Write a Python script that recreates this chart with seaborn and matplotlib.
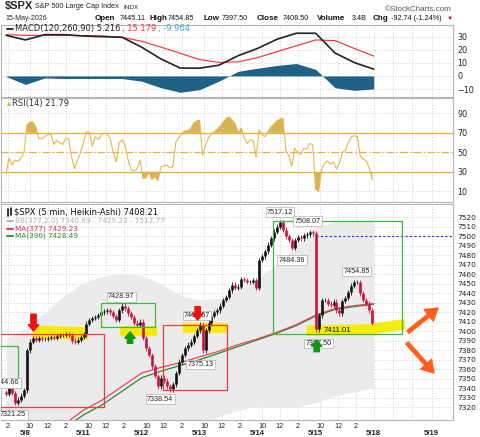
import numpy as np
import pandas as pd
import matplotlib
matplotlib.use("Agg")
import matplotlib.pyplot as plt
import seaborn as sns
from matplotlib.lines import Line2D
from matplotlib.patches import Rectangle, Polygon
from matplotlib.transforms import blended_transform_factory

# x = 5-minute bar count from the 5/7 open, 78 bars per session
day_labels = ["5/8", "5/11", "5/12", "5/13", "5/14", "5/15", "5/18", "5/19"]
hour_labels = ["10", "12", "2"]

# Heikin-Ashi closes, one every 4 bars starting at bar 52
ha_close = [7334, 7341, 7335, 7325, 7328, 7332, 7338,
            7380, 7389, 7393, 7391, 7393, 7392, 7392, 7393, 7394, 7393, 7395, 7396, 7396, 7397, 7396, 7390, 7389, 7391, 7394,
            7397, 7408, 7412, 7414, 7415, 7417, 7420, 7421, 7422, 7420, 7416, 7412, 7422, 7427, 7424, 7419, 7415, 7409, 7407, 7410,
            7393, 7382, 7375, 7363, 7353, 7342, 7351, 7348, 7342, 7339, 7344, 7356, 7368, 7375, 7382, 7386, 7389, 7395, 7401, 7407,
            7380, 7401, 7409, 7416, 7420, 7422, 7427, 7433, 7436, 7443, 7449, 7446, 7447, 7455, 7454, 7452, 7452, 7454, 7446,
            7475, 7479, 7484, 7491, 7498, 7505, 7510, 7515, 7507, 7500, 7496, 7488, 7496, 7499, 7498, 7501, 7502, 7504, 7503,
            7402, 7417, 7433, 7433, 7429, 7428, 7431, 7422, 7419, 7432, 7435, 7441, 7448, 7452, 7452, 7440, 7433, 7429, 7422, 7409]
rsi14 = [28, 44, 37, 42, 41, 44, 50,
         78, 81, 81, 76, 64, 64, 66, 68, 69, 58, 62, 60, 58, 64, 64, 45, 33, 42, 50,
         60, 71, 70, 56, 66, 63, 68, 70, 68, 64, 50, 40, 60, 63, 57, 42, 32, 31, 33, 42,
         23, 24, 29, 22, 25, 21, 35, 36, 37, 34, 35, 60, 65, 69, 72, 72, 74, 80, 82, 83,
         47, 57, 65, 69, 71, 74, 77, 81, 85, 86, 83, 79, 70, 75, 65, 59, 63, 62, 45,
         73, 68, 66, 71, 76, 79, 82, 84, 85, 52, 46, 36, 54, 50, 48, 54, 53, 59, 58,
         12, 10, 32, 39, 41, 38, 40, 33, 39, 50, 52, 60, 66, 67, 66, 46, 43, 41, 34, 22]

# slow series, one every 26 bars starting at bar 52
macd_line = [31, 27.5, 31.5, 31.5, 30.5, 30, 29.5, 22, 13, 6, 5.9, 8.2, 15.5, 21, 28, 32.6, 32.6, 17.5, 10.2, 5.2]
macd_signal = [31.5, 31, 31, 31, 30.8, 30.5, 29.5, 26.5, 22, 17.3, 12.5, 10.3, 10.8, 14, 18.5, 23, 27.5, 27, 21, 15.2]
macd_hist = [-0.5, -6.5, -1.5, -2, -2, -2, -2, -4, -9, -12.5, -10.5, -4, 3.5, 5.9, 8, 9.5, 5, -9, -11, -10]
bb_upper = [7392, 7403, 7420, 7438, 7451, 7458, 7461, 7459, 7450, 7438, 7433, 7435, 7443, 7455, 7471, 7490, 7510, 7515, 7517, 7517.8]
bb_lower = [7150, 7165, 7180, 7175, 7180, 7195, 7220, 7250, 7275, 7285, 7298, 7310, 7317, 7321, 7320, 7320, 7325, 7332, 7336, 7340.7]

# moving averages, one every 26 bars starting at bar 130
ma377 = [7302, 7317, 7328, 7342, 7356, 7362, 7367, 7373, 7379, 7386, 7392, 7399, 7407, 7417, 7424, 7427, 7429.2]
ma390 = [7298, 7312, 7323, 7337, 7351, 7358, 7364, 7370, 7377, 7384, 7391, 7398, 7406, 7416, 7423, 7426, 7428.5]

price_ticks = list(range(7320, 7521, 10))
macd_ticks = [-10, 0, 10, 20, 30]
rsi_ticks = [10, 30, 50, 70, 90]

# chart notes
swing_tags = [("7344.66", 52, 7345.6), ("7321.25", 61.5, 7311.9), ("7428.97", 206.4, 7436.4),
              ("7338.54", 259, 7328.7), ("7409.57", 308.5, 7416.6), ("7375.13", 313.2, 7365.0),
              ("7517.12", 420.1, 7525.5), ("7508.07", 457, 7516.1), ("7484.36", 436.2, 7475.0),
              ("7454.85", 522.9, 7462.9), ("7397.50", 471.8, 7387.1)]
boxes = [(30, 68.3, 7341.7, 7384.8, "#3cb83c"), (30, 183.9, 7320.6, 7396.8, "#f03c3c"),
         (179.1, 252, 7404.2, 7429.5, "#3cb83c"), (263.2, 349.5, 7337.9, 7407.1, "#f03c3c"),
         (410.3, 584.5, 7397.2, 7516.4, "#3cb83c")]
highlights = [([88, 162], [7399.5, 7397.5], 9.0), ([205, 255], [7400.3, 7400.3], 7.0),
              ([290, 350], [7403.5, 7403.5], 7.0), ([456, 540, 588], [7400.5, 7402, 7407.5], 7.5)]
block_arrows = [((88.8, 7400.3), (88.8, 7418.0), "#ee1111"), ((218.5, 7399.3), (218.5, 7387.3), "#119911"),
                ((309.4, 7411.9), (309.4, 7425.9), "#ee1111"), ((469.4, 7390.8), (469.4, 7378.5), "#119911")]
orange_arrows = [((592, 7399.2), (632.4, 7424.5)), ((590.8, 7387.7), (627.1, 7356.1))]

sns.set_theme(style="white")
plt.rcParams["font.family"] = ["DejaVu Sans"]

x_fast = 52 + 4 * np.arange(len(ha_close))
x_slow = 52 + 26 * np.arange(len(macd_line))
x_ma = 130 + 26 * np.arange(len(ma377))
xlim = (45.1, 652.6)

W, H = 480, 437
fig = plt.figure(figsize=(4.8, 4.37), dpi=100)


def fx(px):
    return px / W


def fy(py):
    return 1 - py / H


ax_macd = fig.add_axes([fx(1), fy(97), 452 / W, 72 / H])
ax_rsi = fig.add_axes([fx(1), fy(202), 452 / W, 104 / H])
ax_px = fig.add_axes([fx(1), fy(420), 452 / W, 216 / H])

hour_ticks, hour_text = [], []
for d in range(7):
    for off, lab in zip([6, 30, 54], hour_labels):
        b = 78 * d + off
        if xlim[0] < b < xlim[1]:
            hour_ticks.append(b)
            hour_text.append(lab)
future_grid = [546, 572, 598, 624]

for ax in (ax_macd, ax_rsi, ax_px):
    ax.set_xlim(*xlim)
    ax.yaxis.tick_right()
    ax.set_xticks(hour_ticks)
    ax.set_xticks(future_grid, minor=True)
    ax.grid(True, which="both", color="#cfcfcf", lw=0.6, ls=(0, (1.5, 2)))
    ax.tick_params(axis="both", which="both", length=0)
    ax.tick_params(axis="y", pad=3, labelsize=5.8, labelcolor="#222222")
    for s in ax.spines.values():
        s.set_color("#b5b5b5")
        s.set_linewidth(0.8)
    ax.set_axisbelow(True)

# ---- MACD panel
ax_macd.fill_between(x_slow, 0, macd_hist, color="#1f6286", lw=0, zorder=2)
sns.lineplot(x=x_slow, y=macd_signal, ax=ax_macd, color="#ff2a2a", lw=0.8, estimator=None, sort=False, zorder=3)
sns.lineplot(x=x_slow, y=macd_line, ax=ax_macd, color="#222222", lw=1.2, estimator=None, sort=False, zorder=4)
ax_macd.set_ylim(-16.1, 38.9)
ax_macd.set_yticks(macd_ticks)
ax_macd.set_xticklabels([])

# ---- RSI panel
rsi = np.array(rsi14, dtype=float)
ax_rsi.fill_between(x_fast, rsi, 70, where=rsi >= 70, interpolate=True, color="#d6b356", lw=0, zorder=2)
ax_rsi.fill_between(x_fast, rsi, 30, where=rsi <= 30, interpolate=True, color="#d6b356", lw=0, zorder=2)
for lvl, ls in [(70, "-"), (30, "-"), (50, (0, (6, 2, 1, 2)))]:
    ax_rsi.axhline(lvl, color="#e8b034", lw=0.9, ls=ls, zorder=1)
sns.lineplot(x=x_fast, y=rsi, ax=ax_rsi, color="#e6b74c", lw=0.8, estimator=None, sort=False, zorder=3)
ax_rsi.set_ylim(-1, 105.7)
ax_rsi.set_yticks(rsi_ticks)
ax_rsi.set_xticklabels([])

# ---- price panel
ax_px.fill_between(x_slow, bb_lower, bb_upper, color="#ebebeb", lw=0, zorder=1)
for xs, ys, w in highlights:
    ax_px.plot(xs, ys, color="#f5ec00", lw=w, solid_capstyle="butt", alpha=0.95, zorder=2)
sns.lineplot(x=x_ma, y=ma390, ax=ax_px, color="#2b8a2b", lw=0.9, estimator=None, sort=False, zorder=3)
sns.lineplot(x=x_ma, y=ma377, ax=ax_px, color="#e8445e", lw=0.9, estimator=None, sort=False, zorder=3)

close = np.array(ha_close, dtype=float)
opn = np.r_[close[0] + 2, close[:-1]]
lo = np.minimum(opn, close)
hi = np.maximum(opn, close)
up = close >= opn
ax_px.vlines(x_fast, lo - 2.5, hi + 2.5, color=np.where(up, "#111111", "#cc1040"), lw=0.6, zorder=4)
ax_px.vlines(x_fast[up], lo[up], hi[up], color="#111111", lw=1.9, zorder=4)
ax_px.vlines(x_fast[~up], lo[~up], hi[~up], color="#cc1040", lw=1.9, zorder=4)

ax_px.hlines(7500, 468, xlim[1], color="#2030ee", lw=0.8, ls=(0, (2, 2)), zorder=3)

for x0, x1, y0, y1, c in boxes:
    ax_px.add_patch(Rectangle((x0, y0), x1 - x0, y1 - y0, fill=False, ec=c, lw=0.9, zorder=5))

for s, x, y in swing_tags:
    ax_px.text(x, y, s, fontsize=5.2, family="Liberation Sans", color="#222222", ha="center", va="center",
               bbox=dict(boxstyle="square,pad=0.18", fc="white", ec="#b0b0b0", lw=0.5), zorder=6, clip_on=True)
ax_px.text(497.4, 7401.3, "7411.01", fontsize=5.6, family="Liberation Sans", color="#111111",
           ha="center", va="center", zorder=6)

for tip, tail, c in block_arrows:
    ax_px.annotate("", xy=tip, xytext=tail, zorder=7,
                   arrowprops=dict(arrowstyle="simple,head_length=0.45,head_width=0.75,tail_width=0.38",
                                   color=c, shrinkA=0, shrinkB=0, mutation_scale=10))
for tail, tip in orange_arrows:
    ax_px.annotate("", xy=tip, xytext=tail, zorder=7,
                   arrowprops=dict(arrowstyle="simple,head_length=0.85,head_width=1.05,tail_width=0.24",
                                   color="#ff5f1a", shrinkA=0, shrinkB=0, mutation_scale=10))

ax_px.set_ylim(7306.6, 7534)
ax_px.set_yticks(price_ticks)
ax_px.tick_params(axis="y", labelsize=5.4)
ax_px.set_xticklabels(hour_text, fontsize=5.2, family="Liberation Sans", color="#222222")
ax_px.tick_params(axis="x", pad=2)
trans = blended_transform_factory(ax_px.transData, ax_px.transAxes)
for i, lab in enumerate(day_labels):
    ax_px.text(78 * (i + 1), -0.062, lab, transform=trans, ha="center", va="center", fontsize=5.6,
               family="Liberation Sans", weight="bold", color="#222222", clip_on=False)
for ax in (ax_macd, ax_rsi, ax_px):
    ax.set_xlabel("")
    ax.set_ylabel("")

# ---- header
hdr = ["Liberation Sans", "DejaVu Sans"]
fig.text(fx(5), fy(6.5), "$SPX", fontsize=8, weight="bold", family=hdr, va="center")
fig.text(fx(35), fy(7), "S&P 500 Large Cap Index", fontsize=5.2, family=hdr, va="center", color="#222222")
fig.text(fx(123), fy(7.5), "INDX", fontsize=4.6, family=hdr, va="center", color="#222222")
fig.text(fx(452), fy(9.5), "\u00a9StockCharts.com", fontsize=5.8, family=hdr, va="center", ha="right", color="#555555")
fig.text(fx(5), fy(18), "15-May-2026", fontsize=5.0, family=hdr, va="center")
for px, s, bold in [(95, "Open", True), (120, "7445.11", False), (149, "High", True), (168, "7454.85", False),
                    (204, "Low", True), (222, "7397.50", False), (257, "Close", True), (283, "7408.50", False),
                    (317, "Volume", True), (352, "3.4B", False), (373, "Chg", True), (391, "-92.74 (-1.24%)", False)]:
    fig.text(fx(px), fy(18), s, fontsize=5.8 if bold else 5.2, weight="bold" if bold else "normal",
             family=hdr, va="center", color="#111111")
fig.text(fx(447), fy(18), "\u25bc", fontsize=4.5, family=hdr, va="center", color="#b01030")

# ---- panel legends
fig.add_artist(Line2D([fx(7), fx(13)], [fy(29), fy(29)], color="#222222", lw=1.3))
fig.text(fx(15), fy(29), "MACD(120,260,90) 5.216", fontsize=6, va="center", color="#222222")
fig.text(fx(122), fy(29), ", 15.179", fontsize=6, va="center", color="#ff3030")
fig.text(fx(158), fy(29), ", -9.964", fontsize=6, va="center", color="#45a3d6")

fig.add_artist(Polygon([(fx(7), fy(106)), (fx(8.3), fy(102)), (fx(9.2), fy(104)), (fx(10.2), fy(101.5)), (fx(11), fy(106))],
                       closed=True, fc="#d6b356", ec="none", transform=fig.transFigure))
fig.text(fx(12), fy(103.5), "RSI(14) 21.79", fontsize=6, va="center", color="#333333")

fig.add_artist(Line2D([fx(8), fx(8)], [fy(209), fy(216)], color="#111111", lw=1.2))
fig.add_artist(Line2D([fx(10.5), fx(10.5)], [fy(208), fy(215)], color="#111111", lw=1.2))
fig.text(fx(14), fy(212), "$SPX (5 min, Heikin-Ashi) 7408.21", fontsize=6, va="center", color="#111111")
for py, s, c in [(221, "BB(377,2.0) 7340.69 - 7429.23 - 7517.77", "#b0b0b0"),
                 (228.5, "MA(377) 7429.23", "#e0284e"),
                 (235.5, "MA(390) 7428.49", "#2b8a2b")]:
    fig.add_artist(Line2D([fx(7), fx(13)], [fy(py), fy(py)], color=c, lw=1.3))
    fig.text(fx(15), fy(py), s, fontsize=5.2, va="center", color=c)

fig.savefig("out.png", dpi=100)
